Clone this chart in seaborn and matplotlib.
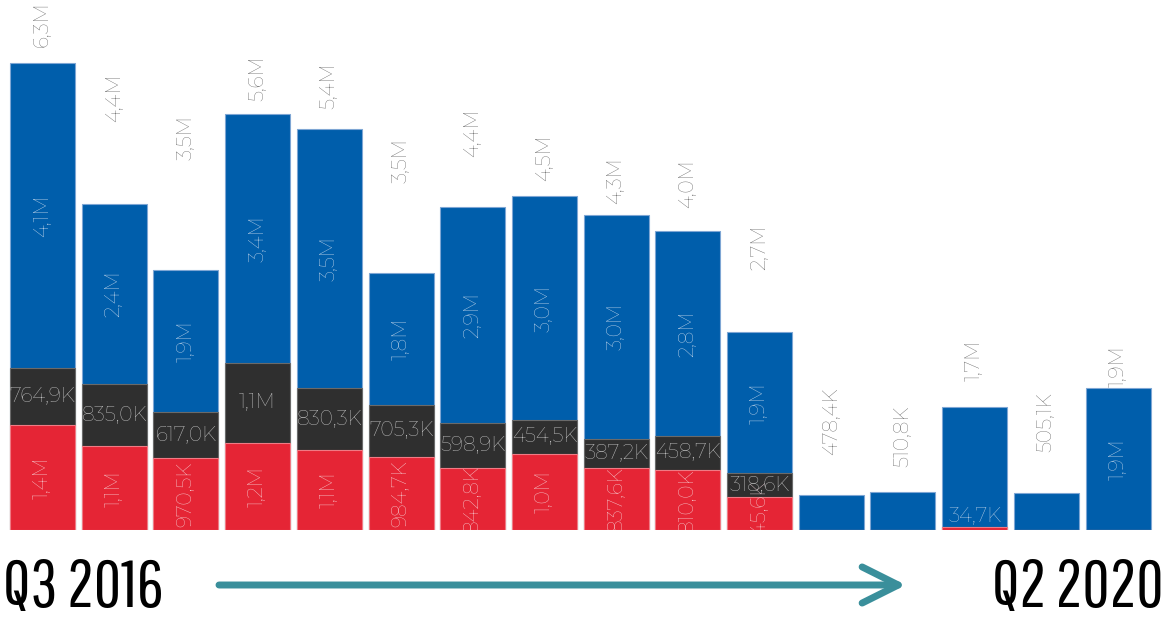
import numpy as np
import pandas as pd
import seaborn as sns
import matplotlib.pyplot as plt

quarters = ['Q3 2016', 'Q4 2016', 'Q1 2017', 'Q2 2017', 'Q3 2017', 'Q4 2017',
            'Q1 2018', 'Q2 2018', 'Q3 2018', 'Q4 2018', 'Q1 2019', 'Q2 2019',
            'Q3 2019', 'Q4 2019', 'Q1 2020', 'Q2 2020']
# values in millions
red = [1.42, 1.13, 0.9705, 1.18, 1.08, 0.9847, 0.8428, 1.03, 0.8376, 0.81,
       0.4456, 0, 0, 0.0347, 0, 0]
dark = [0.7649, 0.835, 0.617, 1.07, 0.8303, 0.7053, 0.5989, 0.4545, 0.3872,
        0.4587, 0.3186, 0.004, 0, 0.006, 0, 0.005]
blue = [4.12, 2.44, 1.92, 3.37, 3.50, 1.78, 2.92, 3.02, 3.03, 2.76, 1.906,
        0.4744, 0.5108, 1.62, 0.5051, 1.915]

# layout: which segment labels are shown (2 = flat label on top of the stack)
show_red = [1] * 11 + [0, 0, 2, 0, 0]
show_dark = [1] * 11 + [0] * 5
show_blue = [1] * 11 + [0, 0, 0, 0, 1]
# layout: height (in M) of the centre of each total label
total_label_y = [6.83, 5.84, 5.29, 6.10, 5.99, 4.98, 5.36, 5.03, 4.71, 4.68,
                 3.82, 1.47, 1.27, 2.29, 1.46, 2.21]

RED, DARK, BLUE = '#e52535', '#2f2f2f', '#005eab'
FONT = ['Montserrat', 'Lato', 'DejaVu Sans']
CAP_FONT = ['Pathway Gothic One', 'Antonio', 'Liberation Sans Narrow', 'DejaVu Sans']


def fmt(v):
    if v >= 1:
        return f'{v:.1f}M'.replace('.', ',')
    return f'{v * 1000:.1f}K'.replace('.', ',')


df = pd.DataFrame({'quarter': quarters, 'red': red, 'dark': dark, 'blue': blue})
df['mid'] = df['red'] + df['dark']
df['total'] = df['mid'] + df['blue']

sns.set_style('white')
plt.rcParams['font.family'] = FONT

fig = plt.figure(figsize=(11.68, 6.2), dpi=100)
ax = fig.add_axes([0, 90 / 620, 1, 530 / 620])

for col, c, ec in [('total', BLUE, '#7ea6d4'), ('mid', DARK, '#6a6a6a'), ('red', RED, '#f07a84')]:
    sns.barplot(data=df, x='quarter', y=col, color=c, saturation=1, width=0.907,
                errorbar=None, edgecolor=ec, linewidth=0.8, ax=ax)

ax.set_xlim(-0.593, 15.697)
ax.set_ylim(0, 530 / 74.1)
ax.set_axis_off()

kw = dict(fontsize=14.5, fontweight=300, ha='center', va='center',
          clip_on=True, clip_box=ax.bbox)
for i, row in df.iterrows():
    if show_red[i] == 1:
        ax.text(i, row.red / 2, fmt(row.red), rotation=90, color='#f7dadd', **kw)
    elif show_red[i] == 2:
        ax.text(i, row.mid + 0.02, fmt(row.red), color='#c9d8ea',
                **{**kw, 'va': 'bottom'})
    if show_dark[i]:
        ax.text(i, row.red + row.dark / 2, fmt(row.dark), color='#dadada', **kw)
    if show_blue[i]:
        ax.text(i, row.mid + row.blue / 2, fmt(row.blue), rotation=90,
                color='#d6e2f1', **kw)
    ax.text(i, total_label_y[i], fmt(row.total), rotation=90, color='#5e5e5e', **kw)

# start / end captions and the time arrow
cap = dict(fontsize=48, color='black', va='baseline', family=CAP_FONT)
fig.text(3 / 1168, 13 / 620, 'Q3 2016', ha='left', **cap)
fig.text(1164 / 1168, 13 / 620, 'Q2 2020', ha='right', **cap)
ax.annotate('', xy=(906, 35), xytext=(219, 35), xycoords='figure pixels',
            textcoords='figure pixels', annotation_clip=False,
            arrowprops=dict(arrowstyle='->, head_length=1.3, head_width=0.65',
                            color='#3a8f9b', lw=5, capstyle='round',
                            joinstyle='round', shrinkA=0, shrinkB=0,
                            mutation_scale=20))

fig.savefig('out.png', dpi=100)
